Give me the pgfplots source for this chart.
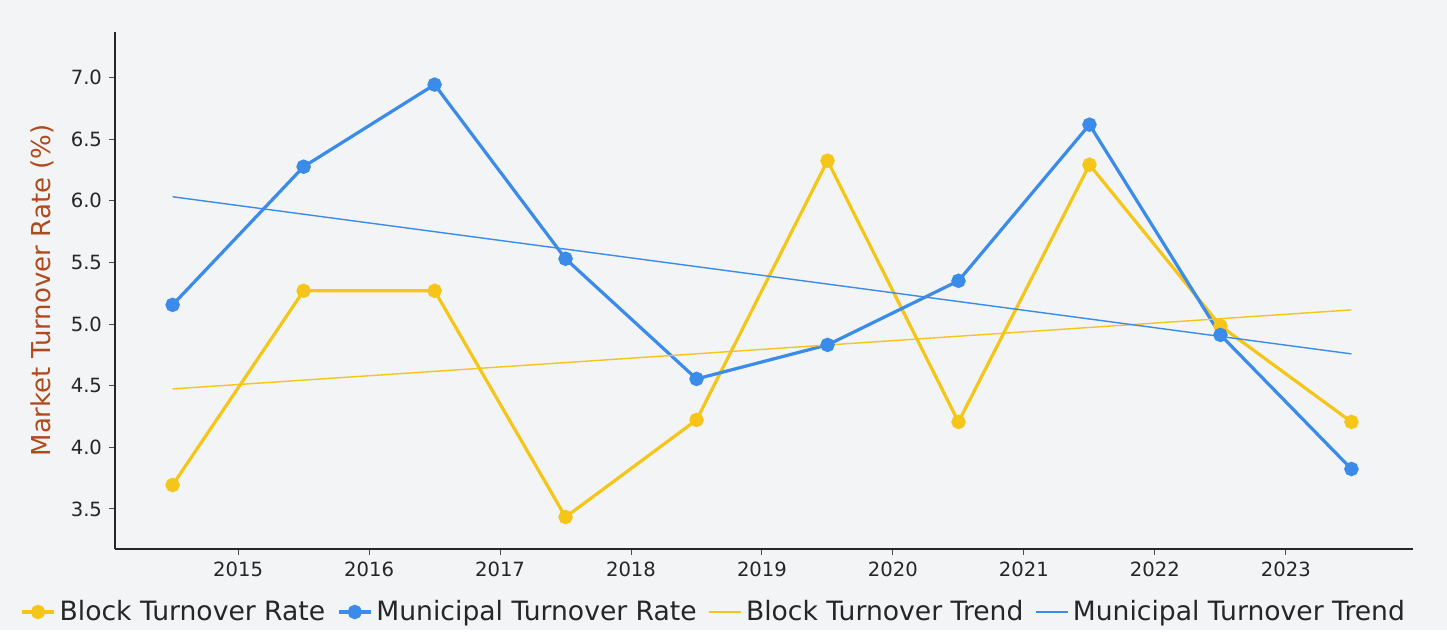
\documentclass[border=0pt]{standalone}
\usepackage{fontspec}
\setmainfont{DejaVu Sans}
\usepackage{pgfplots}
\pgfplotsset{compat=1.18}
\definecolor{bg}{HTML}{F2F4F6}
\definecolor{blk}{HTML}{F5C518}
\definecolor{mun}{HTML}{3A8BEA}
\definecolor{lab}{HTML}{B04A1C}
\begin{document}
\begin{tikzpicture}
% background, picture is 723.5pt x 315pt, axis box at (57.5pt,40.5pt)
\fill[bg] (-57.5pt,-40.5pt) rectangle (666pt,274.5pt);
\begin{axis}[
    at={(0,0)}, anchor=south west,
    scale only axis,
    width=649pt, height=258.5pt,
    xmin=2014.06, xmax=2023.97,
    ymin=3.175, ymax=7.37,
    axis x line*=bottom, axis y line*=left,
    axis line style={black!85, line width=0.7pt, -},
    xtick={2015,...,2023},
    ytick={3.5,4.0,...,7.0},
    yticklabel style={/pgf/number format/.cd, fixed, fixed zerofill, precision=1},
    xticklabel style={/pgf/number format/1000 sep={}},
    /pgf/number format/assume math mode=true,
    tick style={black!70, line width=0.5pt},
    tick align=outside,
    major tick length=3pt,
    ticklabel style={font=\fontsize{9.8}{11}\selectfont, text=black!85},
    xticklabel shift=0pt,
    ylabel={Market Turnover Rate (\%)},
    every axis y label/.style={at={([xshift=-36.5pt]axis description cs:0,0.5)}, rotate=90, anchor=center, font=\fontsize{13}{15}\selectfont, text=lab},
    legend columns=-1,
    legend style={at={(0.462,0)}, anchor=center, yshift=-31.5pt, draw=none, fill=none,
        font=\fontsize{13.3}{15}\selectfont, text=black!85,
        /tikz/every even column/.append style={column sep=4pt}},
    legend image code/.code={\draw[mark repeat=2, mark phase=2, #1] plot coordinates {(0pt,0pt) (8pt,0pt) (16pt,0pt)};},
]
\addplot[blk, line width=1.6pt, mark=*, mark size=2.8pt] coordinates {
    (2014.5,3.694) (2015.5,5.270) (2016.5,5.270) (2017.5,3.434) (2018.5,4.222)
    (2019.5,6.326) (2020.5,4.206) (2021.5,6.293) (2022.5,4.985) (2023.5,4.206)
};
\addlegendentry{Block Turnover Rate}
\addplot[mun, line width=1.6pt, mark=*, mark size=2.8pt] coordinates {
    (2014.5,5.156) (2015.5,6.277) (2016.5,6.943) (2017.5,5.530) (2018.5,4.555)
    (2019.5,4.831) (2020.5,5.351) (2021.5,6.618) (2022.5,4.912) (2023.5,3.824)
};
\addlegendentry{Municipal Turnover Rate}
\addplot[blk, line width=0.7pt] coordinates {(2014.5,4.474) (2023.5,5.115)};
\addlegendentry{Block Turnover Trend}
\addplot[mun, line width=0.7pt] coordinates {(2014.5,6.033) (2023.5,4.758)};
\addlegendentry{Municipal Turnover Trend}
\end{axis}
\end{tikzpicture}
\end{document}
